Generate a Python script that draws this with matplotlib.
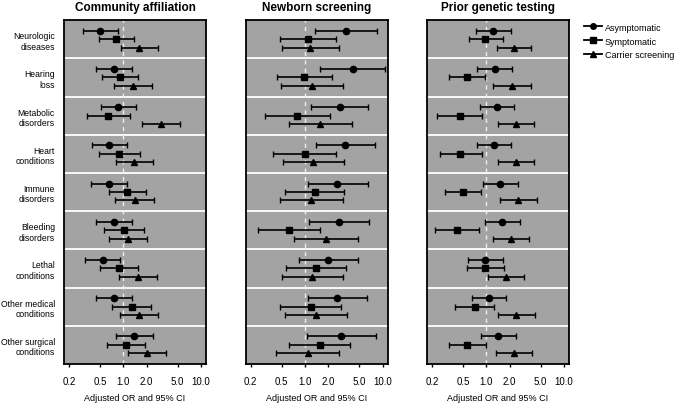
import numpy as np
import matplotlib
matplotlib.use("Agg")
import matplotlib.pyplot as plt
from matplotlib.lines import Line2D

plt.rcParams["font.family"] = ["Liberation Sans", "DejaVu Sans"]

CATEGORIES = ["Neurologic\ndiseases", "Hearing\nloss", "Metabolic\ndisorders", "Heart\nconditions",
              "Immune\ndisorders", "Bleeding\ndisorders", "Lethal\nconditions",
              "Other medical\nconditions", "Other surgical\nconditions"]
PANELS = ["Community affiliation", "Newborn screening", "Prior genetic testing"]
GROUPS = ["Asymptomatic", "Symptomatic", "Carrier screening"]
XTICKS = [0.2, 0.5, 1.0, 2.0, 5.0, 10.0]

# each row: (OR, lower, upper) per category
community_asym = [(0.50, 0.30, 0.86), (0.76, 0.44, 1.31), (0.85, 0.51, 1.44), (0.66, 0.39, 1.13),
                  (0.65, 0.38, 1.11), (0.77, 0.45, 1.31), (0.55, 0.32, 0.92), (0.76, 0.45, 1.28),
                  (1.37, 0.80, 2.39)]
community_symp = [(0.80, 0.48, 1.39), (0.91, 0.53, 1.56), (0.64, 0.34, 1.22), (0.89, 0.48, 1.64),
                  (1.13, 0.66, 1.96), (1.03, 0.57, 1.86), (0.87, 0.50, 1.54), (1.28, 0.72, 2.27),
                  (1.08, 0.61, 1.90)]
community_carr = [(1.61, 0.93, 2.77), (1.32, 0.75, 2.36), (3.05, 1.76, 5.42), (1.37, 0.80, 2.41),
                  (1.40, 0.78, 2.48), (1.14, 0.65, 2.00), (1.54, 0.89, 2.69), (1.59, 0.91, 2.82),
                  (2.00, 1.14, 3.54)]

newborn_asym = [(3.35, 1.35, 8.45), (4.19, 1.58, 10.6), (2.79, 1.21, 6.53), (3.30, 1.39, 7.88),
                (2.62, 1.08, 6.47), (2.70, 1.12, 6.61), (1.97, 0.83, 4.76), (2.60, 1.08, 6.28),
                (2.93, 1.07, 8.13)]
newborn_symp = [(1.10, 0.48, 2.52), (0.97, 0.43, 2.20), (0.80, 0.31, 2.07), (0.99, 0.39, 2.50),
                (1.33, 0.55, 3.17), (0.63, 0.25, 1.55), (1.38, 0.57, 3.36), (1.18, 0.48, 2.93),
                (1.54, 0.63, 3.83)]
newborn_carr = [(1.17, 0.50, 2.70), (1.24, 0.49, 3.08), (1.57, 0.63, 3.98), (1.27, 0.52, 3.17),
                (1.20, 0.48, 3.05), (1.86, 0.72, 4.76), (1.24, 0.51, 3.05), (1.39, 0.55, 3.50),
                (1.08, 0.42, 2.70)]

genetic_asym = [(1.23, 0.74, 2.06), (1.28, 0.77, 2.14), (1.37, 0.83, 2.29), (1.27, 0.77, 2.10),
                (1.51, 0.91, 2.56), (1.61, 0.97, 2.69), (0.97, 0.58, 1.62), (1.07, 0.65, 1.77),
                (1.43, 0.85, 2.41)]
genetic_symp = [(0.97, 0.59, 1.64), (0.57, 0.33, 0.97), (0.46, 0.23, 0.89), (0.46, 0.25, 0.88),
                (0.50, 0.29, 0.86), (0.42, 0.22, 0.80), (0.96, 0.56, 1.69), (0.71, 0.40, 1.24),
                (0.57, 0.33, 0.99)]
genetic_carr = [(2.27, 1.36, 3.80), (2.14, 1.23, 3.72), (2.39, 1.40, 4.11), (2.41, 1.43, 4.11),
                (2.56, 1.49, 4.45), (2.10, 1.23, 3.58), (1.79, 1.06, 3.05), (2.43, 1.43, 4.19),
                (2.25, 1.33, 3.87)]

DATA = [[community_asym, community_symp, community_carr],
        [newborn_asym, newborn_symp, newborn_carr],
        [genetic_asym, genetic_symp, genetic_carr]]

MARKERS = ["o", "s", "^"]
OFFSETS = [-0.22, 0.0, 0.22]
BG = "#a3a3a3"
FONT_SIZE = 6.5
TICK_SIZE = 7
LABEL_SIZE = 6.2
TITLE_SIZE = 8.5

fig = plt.figure(figsize=(6.76, 4.06), dpi=100)
lefts = [0.0947, 0.3635, 0.6317]
n = len(CATEGORIES)

for p, (title, series) in enumerate(zip(PANELS, DATA)):
    ax = fig.add_axes([lefts[p], 0.101, 0.210, 0.847])
    ax.set_facecolor(BG)
    ax.set_xscale("log")
    ax.set_xlim(0.1725, 11.6)
    ax.set_ylim(n - 0.5, -0.5)
    for axis in ["top", "bottom", "left", "right"]:
        ax.spines[axis].set_linewidth(1.3)
    for k in range(1, n):
        ax.axhline(k - 0.5, color="white", linewidth=1.3, zorder=1)
    ax.axvline(1.0, color="#eeeeee", linewidth=1.0, linestyle=(0, (3, 3)), zorder=1)
    for g, vals in enumerate(series):
        vals = np.array(vals)
        y = np.arange(n) + OFFSETS[g]
        ax.errorbar(vals[:, 0], y, xerr=[vals[:, 0] - vals[:, 1], vals[:, 2] - vals[:, 0]],
                    fmt=MARKERS[g], color="black", markersize=4.5, elinewidth=1.2,
                    capsize=2, capthick=1.0, zorder=3)
    ax.set_xticks(XTICKS)
    ax.set_xticklabels([f"{t:.1f}" for t in XTICKS], fontsize=TICK_SIZE)
    ax.xaxis.set_minor_locator(matplotlib.ticker.NullLocator())
    ax.tick_params(axis="x", length=2.5, width=1, pad=6)
    ax.set_xlabel("Adjusted OR and 95% CI", fontsize=FONT_SIZE, labelpad=5)
    ax.set_title(title, fontsize=TITLE_SIZE, fontweight="bold", pad=7)
    ax.set_yticks(range(n))
    if p == 0:
        ax.set_yticklabels(CATEGORIES, fontsize=LABEL_SIZE, ha="right")
        ax.tick_params(axis="y", length=0, pad=6.5)
    else:
        ax.set_yticklabels([])
        ax.tick_params(axis="y", length=0)

handles = [Line2D([0], [0], color="black", marker=m, markersize=4, linewidth=1.3) for m in MARKERS]
fig.legend(handles, GROUPS, loc="upper left", bbox_to_anchor=(0.852, 0.962), frameon=False,
           fontsize=FONT_SIZE, handlelength=2.0, handletextpad=0.3, labelspacing=0.55)

fig.savefig("out.png", dpi=100)
